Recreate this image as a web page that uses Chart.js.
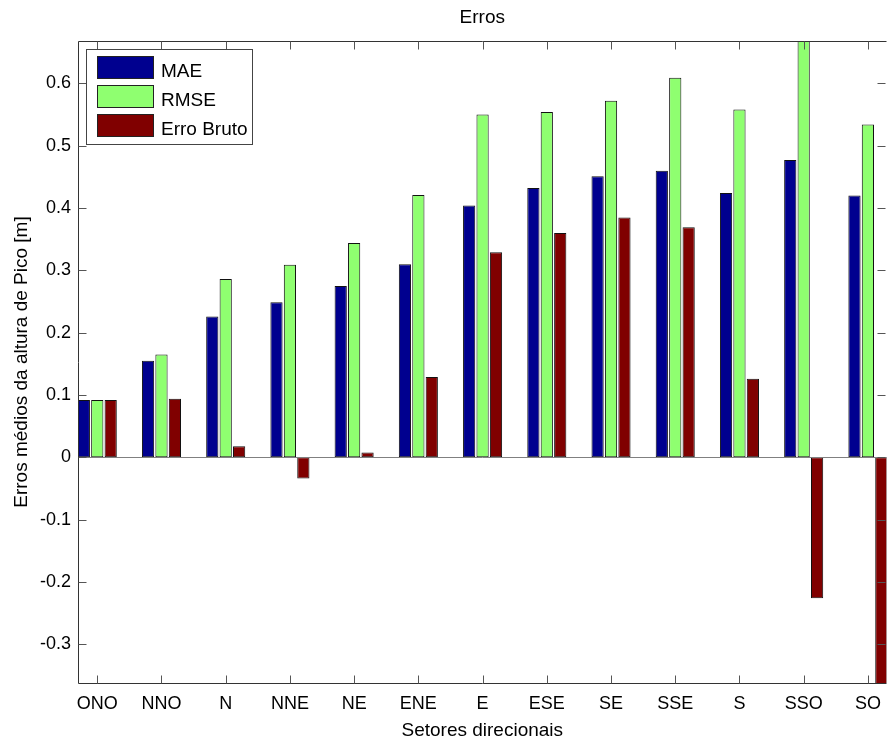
<!DOCTYPE html>
<html>
<head>
<meta charset="utf-8">
<script src="https://cdn.jsdelivr.net/npm/chart.js@4.4.0/dist/chart.umd.min.js"></script>
<style>
  html, body { margin: 0; padding: 0; background: #fff; }
</style>
</head>
<body>
<canvas id="chart-erros" width="891" height="744"></canvas>
<script>
const font_family = '"Liberation Sans", Arial, Helvetica, sans-serif'

// sectors along x, one group of bars each
const sectors = ['ONO', 'NNO', 'N', 'NNE', 'NE', 'ENE', 'E', 'ESE', 'SE', 'SSE', 'S', 'SSO', 'SO']

// values (SSO rmse and SO erro run past the axes)
const mae = [0.092, 0.155, 0.226, 0.249, 0.275, 0.310, 0.404, 0.432, 0.451, 0.460, 0.424, 0.477, 0.420]
const rmse = [0.092, 0.165, 0.286, 0.309, 0.344, 0.421, 0.550, 0.554, 0.572, 0.609, 0.558, 0.700, 0.534]
const erro_bruto = [0.092, 0.094, 0.018, -0.034, 0.008, 0.129, 0.329, 0.360, 0.385, 0.369, 0.126, -0.226, -0.450]

const y_ticks = [-0.3, -0.2, -0.1, 0, 0.1, 0.2, 0.3, 0.4, 0.5, 0.6]

function points(values) {
    return values.map((v, i) => ({ x: i + 1, y: v }))
}

// matlab style box: ticks pointing inwards on all four sides, plus the zero baseline
const matlab_axes = {
    id: 'matlab_axes',
    afterDatasetsDraw(chart) {
        const { ctx, chartArea: a, scales: { x, y } } = chart
        const left = Math.floor(a.left) + 0.5
        const top = Math.floor(a.top) + 0.5
        const bottom = Math.floor(a.bottom) + 0.5
        const right = Math.floor(a.right) - 0.5
        ctx.save()
        ctx.lineWidth = 1

        const y0 = Math.round(y.getPixelForValue(0)) + 0.5
        ctx.strokeStyle = '#808080'
        ctx.beginPath()
        ctx.moveTo(left, y0)
        ctx.lineTo(a.right, y0)
        ctx.stroke()

        ctx.strokeStyle = '#333333'
        ctx.beginPath()
        ctx.moveTo(right + 1, top)
        ctx.lineTo(left, top)
        ctx.lineTo(left, bottom)
        ctx.lineTo(right + 1, bottom)
        ctx.stroke()

        ctx.strokeStyle = '#555555'
        ctx.beginPath()
        y.ticks.forEach(t => {
            const py = Math.round(y.getPixelForValue(t.value)) + 0.5
            ctx.moveTo(left, py)
            ctx.lineTo(left + 8, py)
            ctx.moveTo(right, py)
            ctx.lineTo(right - 8, py)
        })
        x.ticks.forEach(t => {
            const px = Math.round(x.getPixelForValue(t.value)) + 0.5
            ctx.moveTo(px, bottom)
            ctx.lineTo(px, bottom - 8)
            ctx.moveTo(px, top)
            ctx.lineTo(px, top + 8)
        })
        ctx.stroke()
        ctx.restore()
    },
    afterDraw(chart) {
        // legend box in the upper left corner of the axes
        const { ctx } = chart
        ctx.save()
        ctx.fillStyle = '#ffffff'
        ctx.strokeStyle = '#444444'
        ctx.lineWidth = 1
        ctx.fillRect(86.5, 49.5, 166, 95)
        ctx.strokeRect(86.5, 49.5, 166, 95)
        ctx.font = '19px ' + font_family
        ctx.textBaseline = 'alphabetic'
        ctx.textAlign = 'left'
        chart.data.datasets.forEach((ds, i) => {
            const top = 56.5 + i * 29
            ctx.fillStyle = ds.backgroundColor
            ctx.fillRect(97.5, top, 56, 22)
            ctx.strokeStyle = '#222222'
            ctx.strokeRect(97.5, top, 56, 22)
            ctx.fillStyle = '#000000'
            ctx.fillText(ds.label, 161, top + 20)
        })
        ctx.restore()
    }
}

const bar_style = {
    borderColor: '#111111',
    borderWidth: 1,
    borderSkipped: false,
    categoryPercentage: 0.627,
    barPercentage: 0.91
}

const chart_data = {
    datasets: [
        { label: 'MAE', data: points(mae), backgroundColor: '#00008f', ...bar_style },
        { label: 'RMSE', data: points(rmse), backgroundColor: '#8fff70', ...bar_style },
        { label: 'Erro Bruto', data: points(erro_bruto), backgroundColor: '#800000', ...bar_style }
    ]
}

const tick_font = { family: font_family, size: 18 }
const title_font = { family: font_family, size: 19 }

const chart = new Chart('chart-erros', {
    type: 'bar',
    data: chart_data,
    plugins: [matlab_axes],
    options: {
        responsive: false,
        animation: false,
        layout: { padding: 0 },
        plugins: {
            legend: { display: false },
            tooltip: { enabled: false },
            title: {
                display: true,
                text: 'Erros',
                fullSize: false,
                color: '#000000',
                font: { ...title_font, weight: 'normal' },
                padding: { top: 6, bottom: 12.2 }
            }
        },
        scales: {
            x: {
                type: 'linear',
                offset: false,
                min: 0.7,
                max: 13.29,
                grid: { display: false, drawTicks: false, offset: false },
                border: { display: false },
                afterBuildTicks: scale => {
                    scale.ticks = sectors.map((s, i) => ({ value: i + 1 }))
                },
                afterFit: scale => { scale.height = 61 },
                ticks: {
                    autoSkip: false,
                    maxRotation: 0,
                    padding: 10,
                    color: '#000000',
                    font: tick_font,
                    callback: v => sectors[v - 1]
                },
                title: {
                    display: true,
                    text: 'Setores direcionais',
                    color: '#000000',
                    font: title_font,
                    padding: { top: 0, bottom: 1.6 }
                }
            },
            y: {
                min: -0.362,
                max: 0.668,
                grid: { display: false, drawTicks: false },
                border: { display: false },
                afterBuildTicks: scale => {
                    scale.ticks = y_ticks.map(v => ({ value: v }))
                },
                afterFit: scale => { scale.width = 78 },
                ticks: {
                    padding: 7,
                    color: '#000000',
                    font: tick_font,
                    callback: v => (Math.abs(v) < 1e-9 ? '0' : v.toFixed(1))
                },
                title: {
                    display: true,
                    text: 'Erros médios da altura de Pico [m]',
                    color: '#000000',
                    font: title_font,
                    padding: { top: 10.6, bottom: 0 }
                }
            }
        }
    }
})
</script>
</body>
</html>
